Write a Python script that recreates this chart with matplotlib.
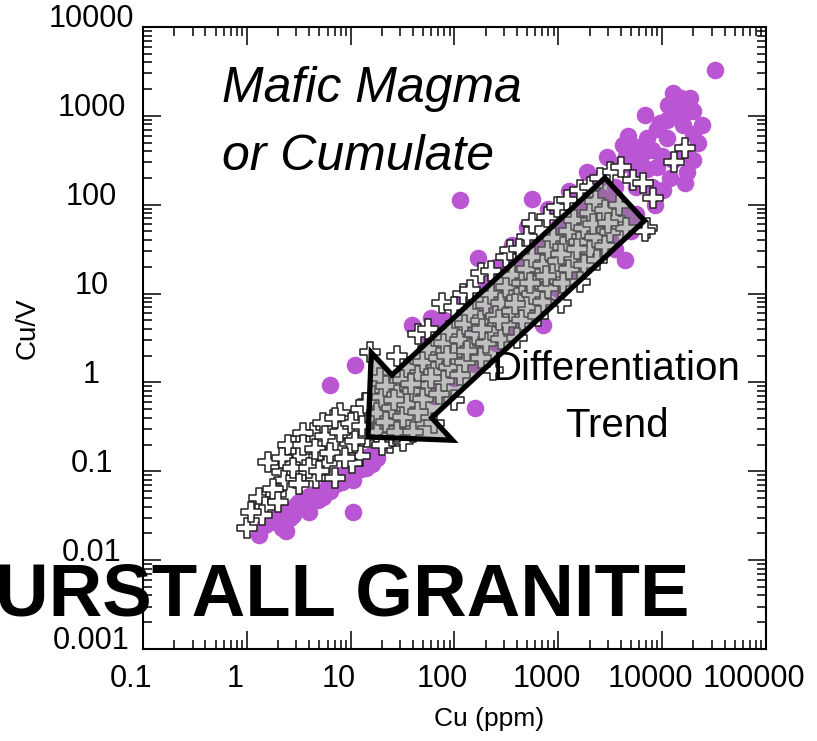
import matplotlib
matplotlib.use("Agg")
import matplotlib.pyplot as plt
from matplotlib.patches import FancyArrowPatch, ArrowStyle
from matplotlib.transforms import ScaledTranslation
from matplotlib.ticker import LogLocator, NullFormatter

plt.rcParams['font.family'] = ['Liberation Sans', 'DejaVu Sans']

# whole-rock samples (filled circles)
cu_rock = [1.3, 1.35, 2.2, 2.4, 2.0, 2.8, 3.5, 4.0, 3.2, 4.8, 5.4, 6.3, 7.2, 8.3, 10.5, 10.5,
           16, 12.6, 4.0, 1.6, 2.6,
           1.5, 1.9, 2.5, 3.0, 3.8, 4.4, 6.0, 8.0, 9.5, 13, 15, 18,
           11, 6.3, 39, 60, 112, 158, 170,
           20, 25, 22, 32, 35, 45, 50, 63, 71, 89, 100, 126, 141, 178, 200, 250, 280, 355,
           400, 500, 560, 710, 710, 800, 1000, 1120, 1410, 1580, 2000, 2240, 2800, 3160,
           4000, 4400, 3550, 5000,
           355, 500, 800, 1260, 1900, 2500, 2950, 560, 50, 79, 126, 200, 251, 398, 631,
           1000, 1580, 2510,
           4200, 4700, 6900, 9500, 12600, 18600, 13800, 24300, 22000, 8000, 8900, 17400,
           16600, 5500, 10200, 8500, 4900, 32000, 11200, 15800, 6300, 5600, 12600, 20000,
           4000, 3550,
           3550, 4470, 5600, 7100, 8900, 11200, 14100, 17800, 20000, 15800, 10000, 7100,
           5000, 12000, 20000, 7900, 15100, 11500,
           251, 398, 631, 1000, 1580, 2510, 3160, 5600, 158, 100, 63, 40, 28, 18, 14]
cuv_rock = [0.019, 0.039, 0.023, 0.021, 0.028, 0.032, 0.039, 0.035, 0.045, 0.048, 0.051, 0.060,
            0.071, 0.076, 0.079, 0.035,
            0.12, 0.105, 0.052, 0.026, 0.030,
            0.025, 0.030, 0.037, 0.042, 0.043, 0.055, 0.068, 0.090, 0.100, 0.130, 0.150, 0.180,
            1.56, 0.93, 4.4, 5.3, 112, 0.51, 25,
            0.32, 0.45, 0.63, 0.56, 0.89, 0.79, 1.26, 1.0, 1.78, 1.6, 2.5, 2.2, 4.0, 3.2, 5.6,
            5.0, 8.9, 7.1,
            12.6, 10, 17.8, 4.4, 16, 28, 22, 40, 32, 56, 45, 79, 63, 112,
            89, 24, 32, 50,
            35, 56, 89, 141, 234, 200, 340, 115, 3.2, 5.0, 8.9, 12.6, 20, 22, 35,
            56, 89, 126,
            470, 600, 1020, 830, 1800, 1580, 1020, 780, 490, 410, 265, 234,
            175, 210, 146, 98, 72, 3240, 560, 790, 355, 160, 316, 1120,
            280, 160,
            280, 355, 447, 560, 710, 890, 1260, 1120, 630, 400, 355, 250,
            280, 200, 316, 160, 1580, 1320,
            2.8, 4.0, 7.1, 11.2, 17.8, 28, 40, 79, 1.6, 1.12, 0.71, 0.45, 0.32, 0.14, 0.11]

# granite samples (open crosses)
cu_gran = [1.0, 1.3, 1.6, 2.2, 1.9, 2.3, 2.8, 2.5, 3.2, 3.0, 4.6, 4.3, 5.4, 5.1, 5.9, 7.0,
           7.9, 7.0, 9.8, 12.3, 10.2, 14.5, 15.5, 24, 3.5, 2.6, 1.5,
           1.8, 2.2, 2.8, 3.5, 4.0, 4.5, 5.6, 6.3, 7.9, 8.9, 10, 11, 12.6, 13, 7.1, 5.0,
           3.2, 2.0, 1.4, 1.1,
           18, 20, 25, 16, 19, 32, 42,
           14, 18, 22, 28, 20, 25, 32, 22, 28, 35, 45, 32, 40, 50, 35, 45, 56, 71, 50, 63, 79,
           56, 71, 89, 112, 79, 100, 126, 89, 112, 141, 178, 126, 158, 200, 141, 178, 224, 282,
           200, 251, 316, 224, 282, 355, 447, 316, 398, 501, 355, 447, 562, 708, 501, 631, 794,
           562, 708, 891, 1120, 794, 1000, 1260, 891, 1120, 1410, 1780, 1260, 1580, 2000,
           1410, 1780, 2240, 2820, 2000, 2510, 3160, 2240, 2820, 3550, 4470,
           26, 38, 59, 85, 132, 186, 269, 380, 537, 759, 1070, 1510, 2140, 3020, 3800,
           28, 15.5, 76, 120, 178, 310, 345, 500, 560, 780, 980, 1200, 1620, 3160, 45, 56,
           100, 141, 224, 417, 2000, 2510, 4000,
           234, 1620, 1050, 2350, 7200, 400, 631, 63, 100, 40,
           5200, 8100, 16600, 12900, 6600, 6900]
cuv_gran = [0.023, 0.050, 0.126, 0.098, 0.056, 0.079, 0.19, 0.20, 0.145, 0.085, 0.085, 0.27,
            0.35, 0.17, 0.123, 0.085, 0.45, 0.22, 0.21, 0.15, 0.123, 0.24, 0.40, 0.21, 0.27,
            0.117, 0.040,
            0.063, 0.14, 0.11, 0.20, 0.11, 0.18, 0.25, 0.16, 0.28, 0.14, 0.35, 0.22, 0.50,
            0.32, 0.40, 0.10, 0.071, 0.045, 0.032, 0.035,
            0.28, 0.20, 0.25, 0.71, 1.12, 0.22, 0.35,
            0.58, 0.45, 0.36, 0.28, 0.68, 0.52, 0.41, 0.91, 0.72, 0.57, 0.46, 1.07, 0.80, 0.65,
            1.5, 1.17, 0.94, 0.74, 1.7, 1.3, 1.05,
            2.4, 1.9, 1.5, 1.2, 2.8, 2.1, 1.7, 3.8, 3.0, 2.4, 1.9, 4.6, 3.5, 2.8, 6.2, 4.9,
            3.9, 3.1,
            7.4, 5.6, 4.5, 10, 7.9, 6.3, 5.0, 11.7, 8.9, 7.1, 16, 13, 10, 8.1, 19, 14.5, 11.5,
            26, 21, 16.6, 13, 31, 23, 19, 42, 33, 26, 21, 50, 38, 30,
            68, 54, 43, 34, 81, 62, 49, 110, 87, 69, 55,
            0.63, 0.95, 1.12, 2.0, 2.24, 4.0, 5.0, 7.6, 13.2, 15.8, 28, 32, 60, 63, 100,
            2.0, 2.2, 7.8, 10, 17, 26, 31, 43, 63, 72, 93, 112, 145, 234, 3.5, 4.0,
            7.1, 11, 18, 32, 160, 200, 263,
            1.38, 13.5, 7.9, 24, 55, 3.2, 5.6, 0.35, 0.63, 0.28,
            190, 120, 440, 300, 174, 51]

x_ticks = [0.1, 1, 10, 100, 1000, 10000, 100000]
x_labels = ['0.1', '1', '10', '100', '1000', '10000', '100000']
y_ticks = [0.001, 0.01, 0.1, 1, 10, 100, 1000, 10000]
y_labels = ['0.001', '0.01', '0.1', '1', '10', '100', '1000', '10000']

# differentiation trend arrow, from the Cu-rich end down to the Cu-poor end
trend_start = (4350, 115)
trend_end = (14.7, 0.243)

fig = plt.figure(figsize=(8.17, 7.41), dpi=100)
ax = fig.add_axes([0.175, 0.1242, 0.7626, 0.8394])
ax.set_xscale('log')
ax.set_yscale('log')
ax.set_xlim(0.1, 100000)
ax.set_ylim(0.001, 10000)

ax.scatter(cu_rock, cuv_rock, s=160, c='#BA55D3', linewidths=0, zorder=2)
ax.scatter(cu_gran, cuv_gran, s=207, marker='P', facecolor='white',
           edgecolor='#222222', linewidths=1.1, zorder=3)

arrow = FancyArrowPatch(trend_start, trend_end,
                        arrowstyle=ArrowStyle.Simple(head_length=43, head_width=86, tail_width=42),
                        mutation_scale=1, shrinkA=0, shrinkB=0,
                        facecolor=(0.5, 0.5, 0.5, 0.5), edgecolor='black',
                        linewidth=3.8, joinstyle='miter', zorder=4)
ax.add_patch(arrow)

ax.set_xticks(x_ticks, x_labels)
ax.set_yticks(y_ticks, y_labels)
for axis in (ax.xaxis, ax.yaxis):
    axis.set_minor_locator(LogLocator(base=10, subs=range(2, 10), numticks=20))
    axis.set_minor_formatter(NullFormatter())
ax.tick_params(which='both', direction='in', top=True, right=True, width=1.1, labelsize=22)
ax.tick_params(which='major', length=13)
ax.tick_params(which='minor', length=6.5)
ax.tick_params(axis='x', pad=11)
ax.tick_params(axis='y', pad=37)
for sp in ax.spines.values():
    sp.set_linewidth(1.5)

# labels sit a little off their ticks
for lab in ax.get_xticklabels():
    lab.set_transform(lab.get_transform() + ScaledTranslation(-0.12, 0, fig.dpi_scale_trans))
for lab in ax.get_yticklabels():
    lab.set_horizontalalignment('center')
    lab.set_transform(lab.get_transform() + ScaledTranslation(0, 0.11, fig.dpi_scale_trans))

ax.set_xlabel('Cu (ppm)', fontsize=19)
ax.xaxis.set_label_coords(0.555, -0.093)
ax.set_ylabel('Cu/V', fontsize=20)
ax.yaxis.set_label_coords(-0.165, 0.515)

ax.text(0.127, 0.879, 'Mafic Magma', transform=ax.transAxes, fontsize=36,
        style='italic', va='baseline', zorder=5)
ax.text(0.127, 0.770, 'or Cumulate', transform=ax.transAxes, fontsize=36,
        style='italic', va='baseline', zorder=5)
ax.text(0.760, 0.4325, 'Differentiation', transform=ax.transAxes, fontsize=29,
        ha='center', va='baseline', zorder=5)
ax.text(0.760, 0.341, 'Trend', transform=ax.transAxes, fontsize=29,
        ha='center', va='baseline', zorder=5)

fig.text(-5 / 817, 0.170, 'URSTALL GRANITE', fontsize=53.5, fontweight='bold',
         ha='left', va='baseline')

fig.savefig('out.png', dpi=100)
